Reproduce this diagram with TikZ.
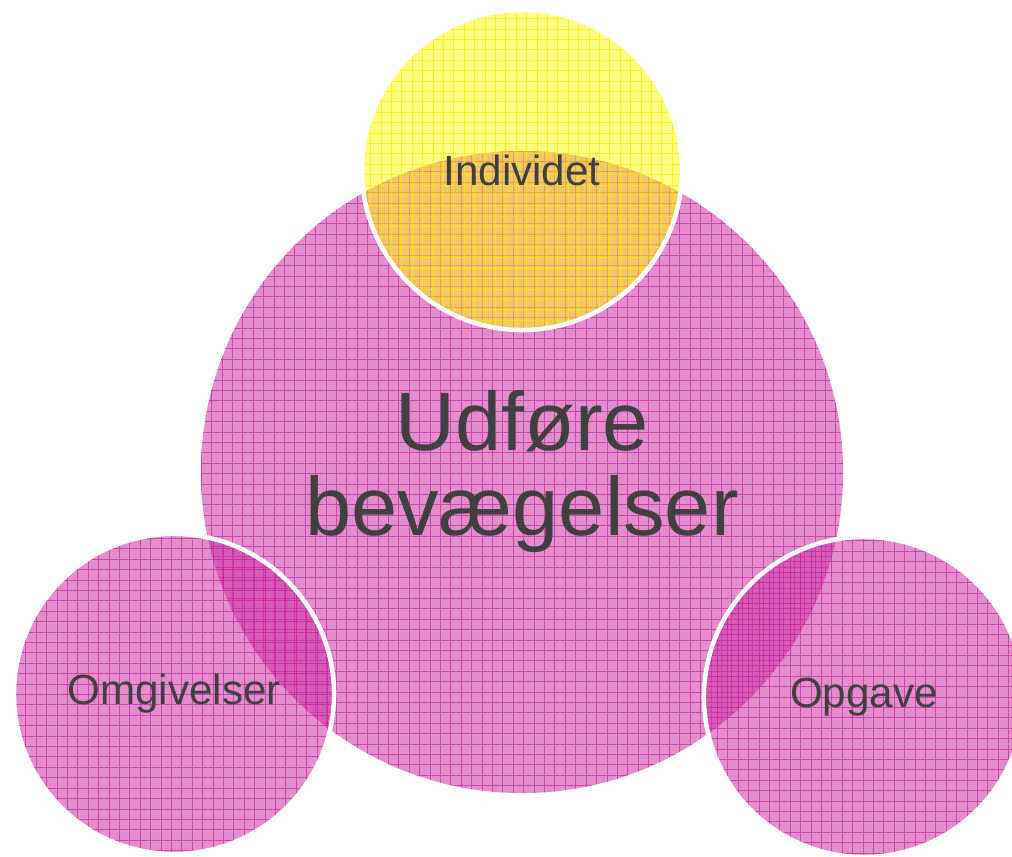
\documentclass[tikz,border=0pt]{standalone}
\usepackage{fontspec}
\setmainfont{Liberation Sans}
\definecolor{bevpink}{RGB}{207,51,166}
\definecolor{bevgrid}{RGB}{190,20,150}
\definecolor{indyellow}{RGB}{255,255,0}
\definecolor{indgrid}{RGB}{250,232,0}
\definecolor{labelgray}{RGB}{64,64,64}
\tikzset{
  ball/.style={circle, inner sep=0pt, fill=bevpink, fill opacity=0.56,
    text opacity=1, text=labelgray, align=center,
    path picture={\draw[bevgrid, draw opacity=0.6, line width=0.6pt]
      (path picture bounding box.south west) grid[step=0.26cm]
      (path picture bounding box.north east);}},
  smallball/.style={ball, minimum size=8cm, draw=white, line width=3.2pt,
    font=\fontsize{30}{36}\selectfont},
  yellowball/.style={smallball, fill=indyellow, fill opacity=0.5,
    path picture={\draw[indgrid, draw opacity=0.7, line width=0.6pt]
      (path picture bounding box.south west) grid[step=0.26cm]
      (path picture bounding box.north east);}},
}
\begin{document}
\begin{tikzpicture}[x=0.025cm, y=0.025cm]
\useasboundingbox (0,0) rectangle (1012,856);
\clip (0,0) rectangle (1012,856);

% Big circle
\node [ball, minimum size=16.05cm, font=\fontsize{59}{60.5}\selectfont] (udfore) at (522,384) {Udføre\\bevægelser};

% Three small circles
\node [yellowball] (individ) at (522,686) {Individet};
\node [smallball] (omgiv) at (174,162) {Omgivelser};
\node [smallball] (opgave) at (864,159) {Opgave};

\end{tikzpicture}
\end{document}
